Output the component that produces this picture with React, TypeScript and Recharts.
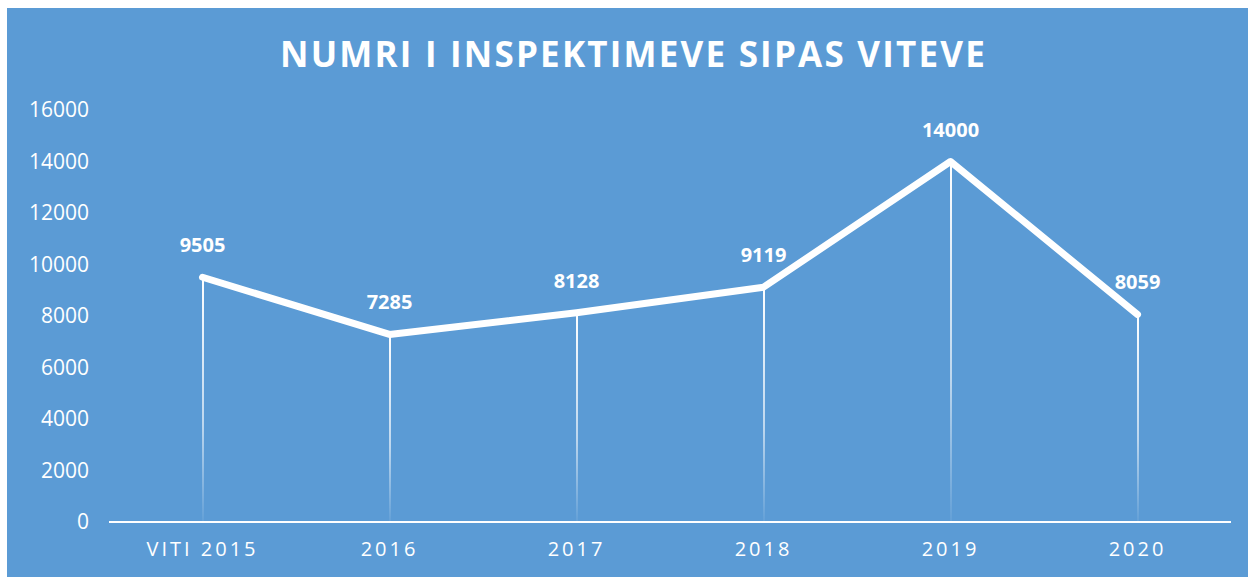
import React from 'react';
import { ComposedChart, Bar, Line, XAxis, YAxis, LabelList } from 'recharts';

const years = ['VITI 2015', '2016', '2017', '2018', '2019', '2020'];
const inspections = [9505, 7285, 8128, 9119, 14000, 8059];
const yTicks = [0, 2000, 4000, 6000, 8000, 10000, 12000, 14000, 16000];

const data = years.map((year, i) => ({ year, value: inspections[i] }));

const FONT = '"Open Sans", "Noto Sans", sans-serif';

const App: React.FC = () => {
  return (
    <div
      style={{
        position: 'absolute',
        left: 7,
        top: 8,
        width: 1241,
        height: 569,
        background: '#5B9BD5',
        fontFamily: FONT,
      }}
    >
      <div
        style={{
          position: 'absolute',
          top: 24,
          left: 0,
          width: 1241,
          paddingLeft: 12,
          boxSizing: 'border-box',
          textAlign: 'center',
          color: '#FFFFFF',
          fontSize: 35,
          fontWeight: 700,
          letterSpacing: 2.2,
          lineHeight: '44px',
        }}
      >
        NUMRI I INSPEKTIMEVE SIPAS VITEVE
      </div>
      <ComposedChart
        width={1241}
        height={569}
        data={data}
        margin={{ top: 102, right: 17, left: 0, bottom: 15 }}
        style={{ position: 'absolute', left: 0, top: 0 }}
      >
        <defs>
          <linearGradient id="dropLine" x1="0" y1="0" x2="0" y2="1">
            <stop offset="0%" stopColor="#FFFFFF" stopOpacity={1} />
            <stop offset="60%" stopColor="#FFFFFF" stopOpacity={0.6} />
            <stop offset="100%" stopColor="#FFFFFF" stopOpacity={0.05} />
          </linearGradient>
        </defs>
        <XAxis
          dataKey="year"
          height={40}
          axisLine={{ stroke: '#FFFFFF', strokeWidth: 2 }}
          tickLine={false}
          tickMargin={14}
          tick={{ fill: '#FFFFFF', fontSize: 20, letterSpacing: 3, fontFamily: FONT }}
        />
        <YAxis
          width={102}
          domain={[0, 16000]}
          ticks={yTicks}
          axisLine={false}
          tickLine={false}
          tickMargin={14}
          tick={{ fill: '#FFFFFF', fontSize: 21, fontFamily: FONT }}
        />
        <Bar dataKey="value" barSize={2} fill="url(#dropLine)" isAnimationActive={false} />
        <Line
          type="linear"
          dataKey="value"
          stroke="#FFFFFF"
          strokeWidth={7}
          strokeLinecap="round"
          strokeLinejoin="round"
          dot={false}
          activeDot={false}
          isAnimationActive={false}
        >
          <LabelList
            dataKey="value"
            position="top"
            offset={25}
            fill="#FFFFFF"
            fontSize={20}
            fontWeight={700}
            fontFamily={FONT}
          />
        </Line>
      </ComposedChart>
    </div>
  );
};

export default App;
